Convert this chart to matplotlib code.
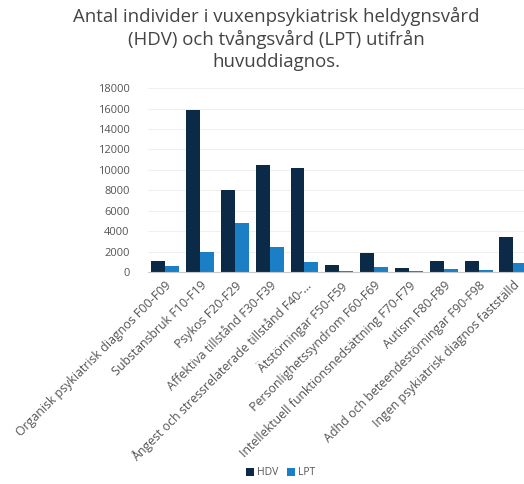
import matplotlib
matplotlib.use("Agg")
import matplotlib.pyplot as plt
import numpy as np

plt.rcParams['font.family'] = ['Open Sans', 'DejaVu Sans']

categories = [
    "Organisk psykiatrisk diagnos F00-F09",
    "Substansbruk F10-F19",
    "Psykos F20-F29",
    "Affektiva tillstånd F30-F39",
    "Ångest och stressrelaterade tillstånd F40-...",
    "Ätstörningar F50-F59",
    "Personlighetssyndrom F60-F69",
    "Intellektuell funktionsnedsättning F70-F79",
    "Autism F80-F89",
    "Adhd och beteendestörningar F90-F98",
    "Ingen psykiatrisk diagnos fastställd",
]
hdv = [1050, 15850, 8050, 10450, 10150, 650, 1850, 350, 1100, 1100, 3400]
lpt = [600, 1950, 4800, 2450, 1000, 100, 500, 100, 250, 200, 900]
yticks = [0, 2000, 4000, 6000, 8000, 10000, 12000, 14000, 16000, 18000]

fig = plt.figure(figsize=(5.24, 4.84), dpi=100)
ax = fig.add_axes([0.282, 0.438, 0.731, 0.380])
x = np.arange(len(categories))
w = 0.4
ax.bar(x - w/2, hdv, w, color='#0b2a48', label='HDV')
ax.bar(x + w/2, lpt, w, color='#1a7fc4', label='LPT')
ax.set_xlim(-0.5, len(categories) - 0.5)
ax.set_ylim(0, 18000)
ax.set_yticks(yticks)
ax.set_yticklabels([str(v) for v in yticks], fontsize=8, color='#555555')
ax.set_xticks(x)
ax.set_xticklabels(categories, rotation=45, ha='right', rotation_mode='anchor',
                   fontsize=8.9, color='#555555')
ax.tick_params(length=0, pad=5)
ax.tick_params(axis='y', pad=13)
ax.grid(axis='y', color='#f0f0f0', linewidth=0.8)
ax.set_axisbelow(True)
for s in ['top', 'right', 'left']:
    ax.spines[s].set_visible(False)
ax.spines['bottom'].set_color('#c8c8c8')

fig.suptitle("Antal individer i vuxenpsykiatrisk heldygnsvård\n(HDV) och tvångsvård (LPT) utifrån\nhuvuddiagnos.",
             x=0.527, y=0.985, fontsize=13.4, color='#444444', linespacing=1.25)

fig.legend(loc='center', bbox_to_anchor=(0.535, 0.023), ncol=2, frameon=False,
           fontsize=7.5, handlelength=0.8, handleheight=0.8, handletextpad=0.3,
           columnspacing=0.8, labelcolor='#555555')

fig.savefig('out.png', dpi=100, facecolor='white')
